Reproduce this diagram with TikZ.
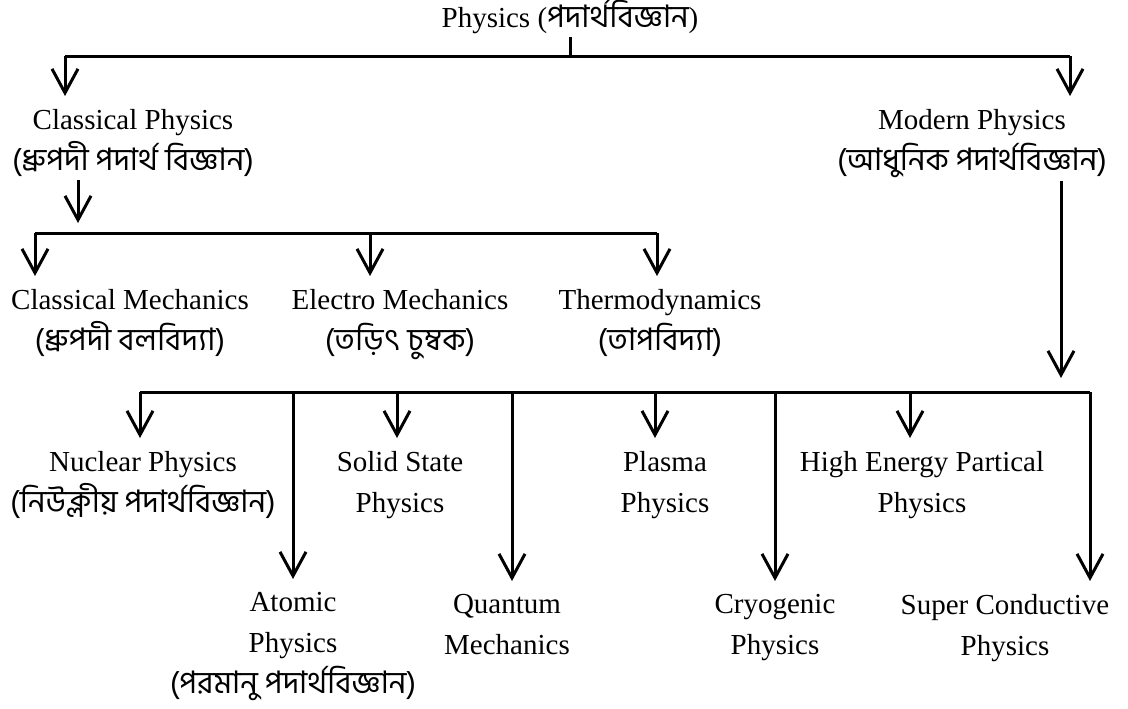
\documentclass[tikz,border=0pt]{standalone}
\usepackage{fontspec}
\setmainfont{Liberation Serif}
\newfontfamily\bnfont[Script=Bengali,Scale=1.07]{Hind Siliguri}
\usetikzlibrary{arrows.meta}

\tikzset{
  lbl/.style={align=center, anchor=north, inner xsep=1pt, inner ysep=1pt, font=\fontsize{14.5}{20.5}\selectfont},
  arr/.style={-{Straight Barb[length=12pt,width=13pt]}, shorten >=5pt},
}

\begin{document}
\begin{tikzpicture}[x=0.5pt, y=-0.5pt, line width=1.5pt]
  \useasboundingbox (0,0) rectangle (1128,708);
  % top level
  \node[lbl, anchor=base] (phys) at (570,27) {Physics ({\bnfont পদার্থবিজ্ঞান})};
  \node[lbl] (classical) at (133,106) {Classical Physics\\{\bnfont (ধ্রুপদী পদার্থ বিজ্ঞান)}};
  \node[lbl] (modern) at (972,106) {Modern Physics\\{\bnfont (আধুনিক পদার্থবিজ্ঞান)}};
  % classical branch
  \node[lbl] (clmech) at (130,286) {Classical Mechanics\\{\bnfont (ধ্রুপদী বলবিদ্যা)}};
  \node[lbl] (elmech) at (400,286) {Electro Mechanics\\{\bnfont (তড়িৎ চুম্বক)}};
  \node[lbl] (thermo) at (660,286) {Thermodynamics\\{\bnfont (তাপবিদ্যা)}};
  % modern branch, upper row
  \node[lbl] (nuclear) at (143,448) {Nuclear Physics\\{\bnfont (নিউক্লীয় পদার্থবিজ্ঞান)}};
  \node[lbl] (solid) at (400,448) {Solid State\\Physics};
  \node[lbl] (plasma) at (665,448) {Plasma\\Physics};
  \node[lbl] (hep) at (922,448) {High Energy Partical\\Physics};
  % modern branch, lower row
  \node[lbl] (atomic) at (293,589) {Atomic\\Physics\\{\bnfont (পরমানু পদার্থবিজ্ঞান)}};
  \node[lbl] (quantum) at (507,591) {Quantum\\Mechanics};
  \node[lbl] (cryo) at (775,591) {Cryogenic\\Physics};
  \node[lbl] (supercond) at (1005,591) {Super Conductive\\Physics};

  % bars
  \coordinate (barA) at (65,56);
  \coordinate (barB) at (1070,56);
  \coordinate (barC) at (78,233);
  \coordinate (barL) at (35,233);
  \coordinate (barR) at (657,233);
  \coordinate (barD) at (1061,388);
  \coordinate (lowL) at (140,392);
  \coordinate (lowR) at (1090,392);

  \draw (phys) -- (phys |- barA);
  \draw (barA) -- (barB);
  \draw[arr] (barA) -- (barA |- classical.north);
  \draw[arr] (barB) -- (barB |- modern.north);

  \draw[arr] (barC |- classical.south) -- (barC);
  \draw (barL) -- (barR);
  \draw[arr] (barL) -- (barL |- clmech.north);
  \draw[arr] (370,233) -- (370,233 |- elmech.north);
  \draw[arr] (barR) -- (barR |- thermo.north);

  \draw[arr] (barD |- modern.south) -- (barD);
  \draw (lowL) -- (lowR);
  \foreach \x/\n in {140/nuclear, 293/atomic, 397/solid, 512/quantum, 655/plasma, 775/cryo, 910/hep, 1090/supercond}
    \draw[arr] (\x,392) -- (\x,392 |- \n.north);
\end{tikzpicture}
\end{document}
